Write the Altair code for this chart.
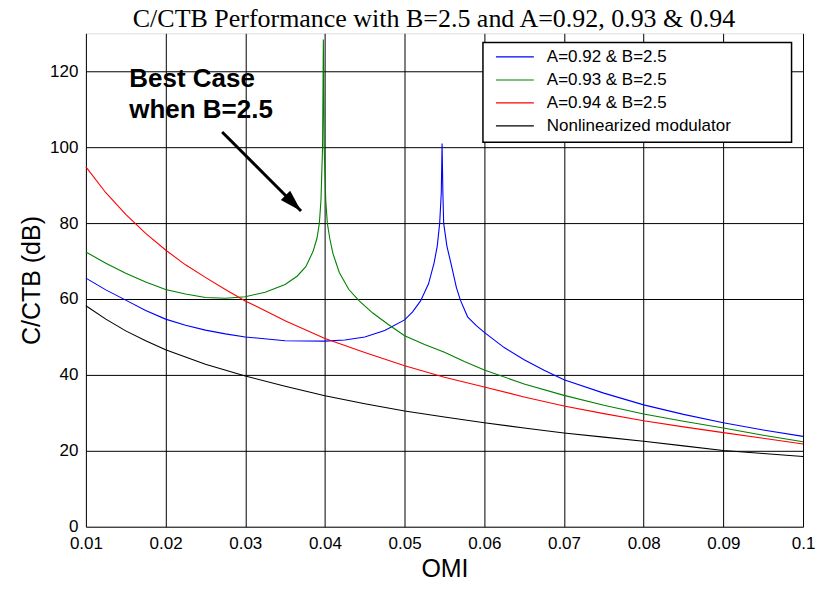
import altair as alt
import pandas as pd

# ---- data ----
series_names = ["A=0.92 & B=2.5", "A=0.93 & B=2.5", "A=0.94 & B=2.5", "Nonlinearized modulator"]
series_colors = ["#0000ff", "#008000", "#ff0000", "#000000"]

omi_a092 = [0.010, 0.0125, 0.015, 0.0175, 0.020, 0.0225, 0.025, 0.0275, 0.030, 0.035, 0.040,
            0.0425, 0.045, 0.0475, 0.050, 0.051, 0.052, 0.053, 0.0537, 0.0541, 0.0544, 0.0546,
            0.0547, 0.0548, 0.0549, 0.0553, 0.0558, 0.0565, 0.0570, 0.0579, 0.059, 0.060,
            0.0625, 0.065, 0.0675, 0.070, 0.075, 0.080, 0.085, 0.090, 0.095, 0.100]
ctb_a092 = [65.5, 62.4, 59.7, 57.0, 54.7, 53.1, 51.8, 50.8, 50.0, 49.0, 48.9,
            49.2, 50.0, 51.7, 54.5, 56.6, 59.5, 64.0, 69.5, 74.0, 80.0, 88.0,
            101.0, 88.0, 80.0, 74.0, 69.5, 63.0, 59.7, 55.3, 53.0, 51.2,
            47.2, 44.0, 41.2, 38.7, 35.2, 32.1, 29.6, 27.4, 25.5, 23.8]

omi_a093 = [0.010, 0.0125, 0.015, 0.0175, 0.020, 0.0225, 0.025, 0.0275, 0.030, 0.0325,
            0.035, 0.0365, 0.0376, 0.0385, 0.039, 0.0393, 0.0395, 0.0397, 0.0398, 0.0399,
            0.0401, 0.0403, 0.0406, 0.041, 0.0418, 0.043, 0.0443, 0.046, 0.048, 0.050,
            0.0525, 0.055, 0.0575, 0.060, 0.065, 0.070, 0.075, 0.080, 0.085, 0.090,
            0.095, 0.100]
ctb_a093 = [72.4, 69.4, 66.8, 64.5, 62.5, 61.3, 60.4, 60.2, 60.6, 61.8,
            63.8, 66.0, 68.5, 72.5, 76.0, 80.0, 86.0, 100.0, 128.4, 100.0,
            86.0, 80.0, 76.0, 72.0, 67.0, 62.5, 59.5, 56.3, 53.2, 50.3,
            48.0, 46.0, 43.5, 41.3, 37.6, 34.6, 32.0, 29.7, 27.8, 26.0,
            24.1, 22.4]

omi_a094 = [0.010, 0.0125, 0.015, 0.0175, 0.020, 0.0225, 0.025, 0.0275, 0.030, 0.035,
            0.040, 0.045, 0.050, 0.055, 0.060, 0.065, 0.070, 0.075, 0.080, 0.085,
            0.090, 0.095, 0.100]
ctb_a094 = [94.8, 88.0, 82.3, 77.3, 72.9, 69.0, 65.7, 62.5, 59.5, 54.3,
            49.6, 45.9, 42.4, 39.4, 36.8, 34.2, 31.8, 29.8, 27.9, 26.3,
            24.8, 23.3, 21.8]

omi_nonlin = [0.010, 0.0125, 0.015, 0.0175, 0.020, 0.025, 0.030, 0.035, 0.040, 0.045,
              0.050, 0.055, 0.060, 0.065, 0.070, 0.075, 0.080, 0.085, 0.090, 0.095, 0.100]
ctb_nonlin = [58.2, 54.7, 51.6, 49.0, 46.6, 42.8, 39.7, 37.0, 34.5, 32.4,
              30.5, 28.9, 27.4, 26.0, 24.7, 23.6, 22.5, 21.3, 20.1, 19.3, 18.5]

x_ticks = [0.01, 0.02, 0.03, 0.04, 0.05, 0.06, 0.07, 0.08, 0.09, 0.1]
y_ticks = [0, 20, 40, 60, 80, 100, 120]

title_text = "C/CTB Performance with B=2.5 and A=0.92, 0.93 & 0.94"
note_lines = ["Best Case", "when B=2.5"]
note_x = [0.01545, 0.01545]
note_y = [115.9, 107.6]

arrow_start = (0.0271, 104.0)
arrow_tip = (0.0370, 83.2)

# legend box placement (in data units of the plot)
leg_x0, leg_x1 = 0.05983, 0.09856
leg_y0, leg_y1 = 127.6, 101.3
leg_sym_x0, leg_sym_x1 = 0.06146, 0.06622
leg_label_x = 0.06785
leg_row_y = [123.8, 117.7, 111.7, 105.6]

# ---- tables ----
rows = []
for name, xs, ys in zip(series_names,
                        [omi_a092, omi_a093, omi_a094, omi_nonlin],
                        [ctb_a092, ctb_a093, ctb_a094, ctb_nonlin]):
    for i, (xv, yv) in enumerate(zip(xs, ys)):
        rows.append({"series": name, "omi": xv, "ctb": yv, "order": i})
df = pd.DataFrame(rows)

df_note = pd.DataFrame({"omi": note_x, "ctb": note_y, "text": note_lines})
df_arrow = pd.DataFrame({"omi": [arrow_start[0]], "ctb": [arrow_start[1]],
                         "omi2": [arrow_tip[0]], "ctb2": [arrow_tip[1]]})
df_head = pd.DataFrame({"omi": [arrow_tip[0]], "ctb": [arrow_tip[1]]})
df_legbox = pd.DataFrame({"omi": [leg_x0], "omi2": [leg_x1], "ctb": [leg_y0], "ctb2": [leg_y1]})
df_legend = pd.DataFrame({"series": series_names, "ctb": leg_row_y,
                          "omi": [leg_sym_x0] * 4, "omi2": [leg_sym_x1] * 4,
                          "lx": [leg_label_x] * 4})
df_title = pd.DataFrame({"t": [title_text]})

x_scale = alt.Scale(domain=[0.01, 0.1], nice=False, zero=False)
y_scale = alt.Scale(domain=[0, 130], nice=False, zero=True)
color_scale = alt.Scale(domain=series_names, range=series_colors)

FONT = "Liberation Sans"

x_axis = alt.Axis(values=x_ticks, format=".2~f", title="OMI", grid=True, gridColor="#000000",
                  gridWidth=1, gridOpacity=1, ticks=False, domain=False,
                  labelFont=FONT, labelFontSize=17, labelColor="#000000", labelPadding=9,
                  labelFlush=False, labelOverlap=False,
                  titleFont=FONT, titleFontSize=25, titleFontWeight="normal",
                  titleColor="#000000", titlePadding=5)
y_axis = alt.Axis(values=y_ticks, title="C/CTB (dB)", grid=True, gridColor="#000000",
                  gridWidth=1, gridOpacity=1, ticks=False, domain=False,
                  labelFont=FONT, labelFontSize=17, labelColor="#000000", labelPadding=8,
                  labelFlush=False, labelOverlap=False,
                  titleFont=FONT, titleFontSize=25, titleFontWeight="normal",
                  titleColor="#000000", titlePadding=5)

lines = alt.Chart(df).mark_line(strokeWidth=1.1).encode(
    x=alt.X("omi:Q", scale=x_scale, axis=x_axis),
    y=alt.Y("ctb:Q", scale=y_scale, axis=y_axis),
    color=alt.Color("series:N", scale=color_scale, legend=None),
    detail="series:N",
    order="order:Q",
)

note = alt.Chart(df_note).mark_text(align="left", baseline="alphabetic", font=FONT,
                                    fontSize=26, fontWeight="bold", color="#000000").encode(
    x=alt.X("omi:Q", scale=x_scale), y=alt.Y("ctb:Q", scale=y_scale), text="text:N")

shaft = alt.Chart(df_arrow).mark_rule(strokeWidth=3, color="#000000").encode(
    x=alt.X("omi:Q", scale=x_scale), y=alt.Y("ctb:Q", scale=y_scale),
    x2="omi2:Q", y2="ctb2:Q")

head = alt.Chart(df_head).mark_point(shape="M0,0L0.6,2L-0.6,2Z", angle=135, size=484,
                                     filled=True, color="#000000", opacity=1,
                                     strokeWidth=0).encode(
    x=alt.X("omi:Q", scale=x_scale), y=alt.Y("ctb:Q", scale=y_scale))

leg_box = alt.Chart(df_legbox).mark_rect(fill="#ffffff", stroke="#000000",
                                         strokeWidth=1.5).encode(
    x=alt.X("omi:Q", scale=x_scale), x2="omi2:Q",
    y=alt.Y("ctb:Q", scale=y_scale), y2="ctb2:Q")

leg_sym = alt.Chart(df_legend).mark_rule(strokeWidth=1.2).encode(
    x=alt.X("omi:Q", scale=x_scale), x2="omi2:Q",
    y=alt.Y("ctb:Q", scale=y_scale),
    color=alt.Color("series:N", scale=color_scale, legend=None))

leg_lab = alt.Chart(df_legend).mark_text(align="left", baseline="middle", font=FONT,
                                         fontSize=17, color="#000000").encode(
    x=alt.X("lx:Q", scale=x_scale), y=alt.Y("ctb:Q", scale=y_scale), text="series:N")

title_mark = alt.Chart(df_title).mark_text(align="center", baseline="alphabetic",
                                           font="Liberation Serif", fontSize=26,
                                           color="#000000").encode(
    text="t:N", x=alt.value(348.5), y=alt.value(-6))

chart = alt.layer(lines, shaft, head, note, leg_box, leg_sym, leg_lab, title_mark).properties(
    width=718, height=494,
    padding={"left": 78, "top": 25, "right": 20, "bottom": 58},
    autosize=alt.AutoSizeParams(type="none"),
).configure_view(stroke="#000000", strokeWidth=1.6).configure(background="#ffffff")

chart.save("out.html", embed_options={"renderer": "svg", "actions": False})
